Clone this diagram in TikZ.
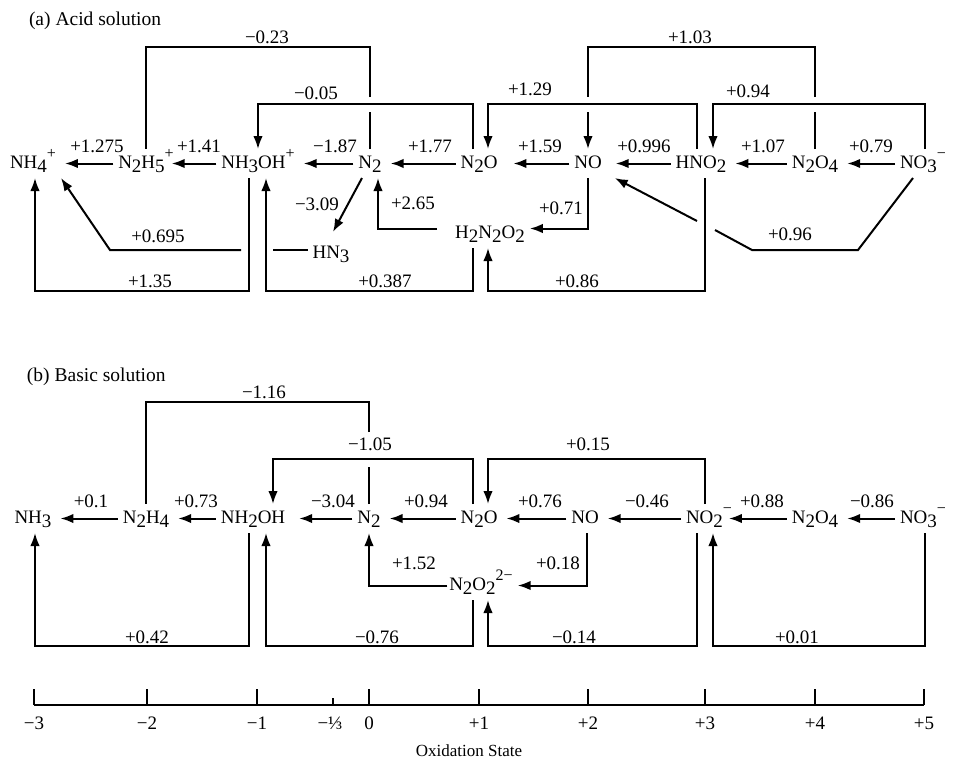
\documentclass[tikz,border=0pt]{standalone}
\usepackage{fontspec}
\setmainfont{Liberation Serif}
\usetikzlibrary{arrows.meta}
\newcommand{\sbs}[1]{\raisebox{-0.24em}{#1}}
\newcommand{\sps}[1]{\raisebox{0.5em}{\fontsize{16}{16}\selectfont #1}}

\begin{document}
\begin{tikzpicture}[x=1pt,y=-1pt,line width=2pt]
		\tikzstyle{species} = [anchor=base, inner xsep=4pt, inner ysep=3pt, text height=15pt, text depth=6pt, font=\fontsize{19}{22}\selectfont]
		\tikzstyle{value} = [anchor=base, inner sep=0pt, font=\fontsize{19}{22}\selectfont]
		\tikzstyle{ticklabel} = [anchor=base, inner sep=0pt, font=\fontsize{19}{22}\selectfont]
		\tikzstyle{line} = [draw]
		\tikzstyle{connector} = [draw, -{Latex[length=13pt,width=9.5pt]}]
		\tikzstyle{reaction} = [connector, shorten >=4pt]
		\useasboundingbox (0,0) rectangle (960,766);
		% (a) acid solution
		\node [value, anchor=base west, font=\fontsize{19.5}{22}\selectfont] at (28,25) (titlea) {(a) Acid solution};
		\node [species] at (33,168) (anh4) {NH\sbs{4}\sps{+}};
		\node [species] at (146,168) (an2h5) {N\sbs{2}H\sbs{5}\sps{+}};
		\node [species] at (258,168) (anh3oh) {NH\sbs{3}OH\sps{+}};
		\node [species] at (370,168) (an2) {N\sbs{2}};
		\node [species] at (479,168) (an2o) {N\sbs{2}O};
		\node [species] at (588,168) (ano) {NO};
		\node [species] at (701,168) (ahno2) {HNO\sbs{2}};
		\node [species] at (815,168) (an2o4) {N\sbs{2}O\sbs{4}};
		\node [species] at (923,168) (ano3) {NO\sbs{3}\sps{−}};
		\node [species] at (331,258) (ahn3) {HN\sbs{3}};
		\node [species] at (490,238) (ah2n2o2) {H\sbs{2}N\sbs{2}O\sbs{2}};
		\coordinate (topA) at (0,47);
		\coordinate (midA) at (0,104);
		\coordinate (jumpA1) at (0,97);
		\coordinate (jumpA2) at (0,112);
		\coordinate (lowA) at (0,291);
		\coordinate (kneeA) at (110,250);
		\coordinate (jumpA3) at (273,250);
		\coordinate (jumpA4) at (241,250);
		\coordinate (kneeB) at (858,250);
		\coordinate (kneeC) at (752,250);
		\coordinate (jumpA5) at (715,230);
		\coordinate (jumpA6) at (697,221);
		\path [reaction] (an2h5.west) -- (anh4.east);
		\path [reaction, shorten >=-7pt] (anh3oh.west) -- (an2h5.east);
		\path [reaction] (an2.west) -- (anh3oh.east);
		\path [reaction] (an2o.west) -- (an2.east);
		\path [reaction, shorten >=11pt] (ano.west) -- (an2o.east);
		\path [reaction, shorten >=9pt] (ahno2.west) -- (ano.east);
		\path [reaction] (an2o4.west) -- (ahno2.east);
		\path [reaction] (ano3.west) -- (an2o4.east);
		\path [line] (an2.north) -- (an2.north |- jumpA2);
		\path [line] (an2.north |- jumpA1) |- (an2h5.north |- topA) -- (an2h5.north);
		\path [connector] ([xshift=-6pt]an2o.north) |- (anh3oh.north |- midA) -- (anh3oh.north);
		\path [connector] ([xshift=-4pt]ahno2.north) |- ([xshift=9pt]an2o.north |- midA) -- ([xshift=9pt]an2o.north);
		\path [line] (an2o4.north) -- (an2o4.north |- jumpA2);
		\path [line] (an2o4.north |- jumpA1) |- (ano.north |- topA) -- (ano.north |- jumpA1);
		\path [connector] (ano.north |- jumpA2) -- (ano.north);
		\path [connector] ([xshift=2pt]ano3.north) |- ([xshift=12pt]ahno2.north |- midA) -- ([xshift=12pt]ahno2.north);
		\path [connector] ([xshift=-9pt]anh3oh.south) |- ([xshift=2pt]anh4.south |- lowA) -- ([xshift=2pt]anh4.south);
		\path [connector] ([xshift=-17pt]ah2n2o2.south) |- ([xshift=8pt]anh3oh.south |- lowA) -- ([xshift=8pt]anh3oh.south);
		\path [connector] ([xshift=4pt]ahno2.south) |- ([xshift=-2pt]ah2n2o2.south |- lowA) -- ([xshift=-2pt]ah2n2o2.south);
		\path [connector] ([xshift=-13pt,yshift=5pt]ah2n2o2.west) -| ([xshift=8pt]an2.south);
		\path [connector] (ano.south) |- ([yshift=5pt]ah2n2o2.east);
		\path [connector] ([xshift=-8pt]an2.south) -- ([xshift=2pt,yshift=7pt]ahn3.north);
		\path [line] (ahn3.west |- jumpA3) -- (jumpA3);
		\path [connector] (jumpA4) -- (kneeA) -- (anh4.south east);
		\path [line] ([xshift=-10pt]ano3.south) -- (kneeB) -- (kneeC) -- (jumpA5);
		\path [connector] (jumpA6) -- ([xshift=8pt]ano.south east);
		\node [value] at (267,43) (av023) {−0.23};
		\node [value] at (690,43) (av103) {+1.03};
		\node [value] at (316,99) (av005) {−0.05};
		\node [value] at (530,95) (av129) {+1.29};
		\node [value] at (748,97) (av094) {+0.94};
		\node [value] at (97,152) (av1275) {+1.275};
		\node [value] at (199,152) (av141) {+1.41};
		\node [value] at (335,152) (av187) {−1.87};
		\node [value] at (430,152) (av177) {+1.77};
		\node [value] at (540,152) (av159) {+1.59};
		\node [value] at (644,152) (av0996) {+0.996};
		\node [value] at (763,152) (av107) {+1.07};
		\node [value] at (871,152) (av079) {+0.79};
		\node [value] at (317,210) (av309) {−3.09};
		\node [value] at (413,209) (av265) {+2.65};
		\node [value] at (158,242) (av0695) {+0.695};
		\node [value] at (150,287) (av135) {+1.35};
		\node [value] at (385,287) (av0387) {+0.387};
		\node [value] at (561,214) (av071) {+0.71};
		\node [value] at (577,287) (av086) {+0.86};
		\node [value] at (790,240) (av096) {+0.96};
		% (b) basic solution
		\node [value, anchor=base west, font=\fontsize{19.5}{22}\selectfont] at (26,381) (titleb) {(b) Basic solution};
		\node [species] at (33,523) (bnh3) {NH\sbs{3}};
		\node [species] at (146,523) (bn2h4) {N\sbs{2}H\sbs{4}};
		\node [species] at (253,523) (bnh2oh) {NH\sbs{2}OH};
		\node [species] at (369,523) (bn2) {N\sbs{2}};
		\node [species] at (479,523) (bn2o) {N\sbs{2}O};
		\node [species] at (585,523) (bno) {NO};
		\node [species] at (709,523) (bno2) {NO\sbs{2}\sps{−}};
		\node [species] at (815,523) (bn2o4) {N\sbs{2}O\sbs{4}};
		\node [species] at (923,523) (bno3) {NO\sbs{3}\sps{−}};
		\node [species] at (481,590) (bn2o2) {N\sbs{2}O\sbs{2}\sps{2−}};
		\coordinate (topB) at (0,402);
		\coordinate (midB) at (0,459);
		\coordinate (jumpB1) at (0,432);
		\coordinate (jumpB2) at (0,467);
		\coordinate (lowB) at (0,646);
		\path [reaction] (bn2h4.west) -- (bnh3.east);
		\path [reaction] (bnh2oh.west) -- (bn2h4.east);
		\path [reaction, shorten >=9pt] (bn2.west) -- (bnh2oh.east);
		\path [reaction] (bn2o.west) -- (bn2.east);
		\path [reaction] (bno.west) -- (bn2o.east);
		\path [reaction] (bno2.west) -- (bno.east);
		\path [reaction, shorten >=-8pt] (bn2o4.west) -- (bno2.east);
		\path [reaction] (bno3.west) -- (bn2o4.east);
		\path [line] (bn2.north) -- (bn2.north |- jumpB2);
		\path [line] (bn2.north |- jumpB1) |- (bn2h4.north |- topB) -- (bn2h4.north);
		\path [connector] ([xshift=-6pt]bn2o.north) |- ([xshift=20pt]bnh2oh.north |- midB) -- ([xshift=20pt]bnh2oh.north);
		\path [connector] ([xshift=-4pt]bno2.north) |- ([xshift=9pt]bn2o.north |- midB) -- ([xshift=9pt]bn2o.north);
		\path [connector] ([xshift=-4pt]bnh2oh.south) |- ([xshift=2pt]bnh3.south |- lowB) -- ([xshift=2pt]bnh3.south);
		\path [connector] ([xshift=-8pt]bn2o2.south) |- ([xshift=13pt]bnh2oh.south |- lowB) -- ([xshift=13pt]bnh2oh.south);
		\path [connector] ([xshift=3pt]bn2o2.west) -| (bn2.south);
		\path [connector] ([xshift=2pt]bno.south) |- (bn2o2.east);
		\path [connector] ([xshift=-12pt]bno2.south) |- ([xshift=7pt]bn2o2.south |- lowB) -- ([xshift=7pt]bn2o2.south);
		\path [connector] ([xshift=2pt]bno3.south) |- ([xshift=4pt]bno2.south |- lowB) -- ([xshift=4pt]bno2.south);
		\node [value] at (264,398) (bv116) {−1.16};
		\node [value] at (370,450) (bv105) {−1.05};
		\node [value] at (588,450) (bv015) {+0.15};
		\node [value] at (91,507) (bv01) {+0.1};
		\node [value] at (196,507) (bv073) {+0.73};
		\node [value] at (333,507) (bv304) {−3.04};
		\node [value] at (426,507) (bv094) {+0.94};
		\node [value] at (540,507) (bv076) {+0.76};
		\node [value] at (647,507) (bv046) {−0.46};
		\node [value] at (762,507) (bv088) {+0.88};
		\node [value] at (872,507) (bv086) {−0.86};
		\node [value] at (414,569) (bv152) {+1.52};
		\node [value] at (558,569) (bv018) {+0.18};
		\node [value] at (147,643) (bv042) {+0.42};
		\node [value] at (377,643) (bvm076) {−0.76};
		\node [value] at (574,643) (bv014) {−0.14};
		\node [value] at (797,643) (bv001) {+0.01};
		% oxidation state axis
		\coordinate (axisL) at (34,705);
		\coordinate (axisR) at (924,705);
		\draw (axisL) -- (axisR);
		\foreach \x/\t in {34/−3, 147/−2, 257/−1, 369/0, 479/+1, 588/+2, 705/+3, 815/+4, 924/+5} {
			\draw (\x,705) -- (\x,689);
			\node [ticklabel] at (\x,729) (tick\x) {\t};
		}
		\draw (333,705) -- (333,698);
		\node [ticklabel] at (330,729) (tickthird) {−⅓};
		\node [ticklabel, font=\fontsize{17}{20}\selectfont] at (469,756) (axistitle) {Oxidation State};
	\end{tikzpicture}
\end{document}
